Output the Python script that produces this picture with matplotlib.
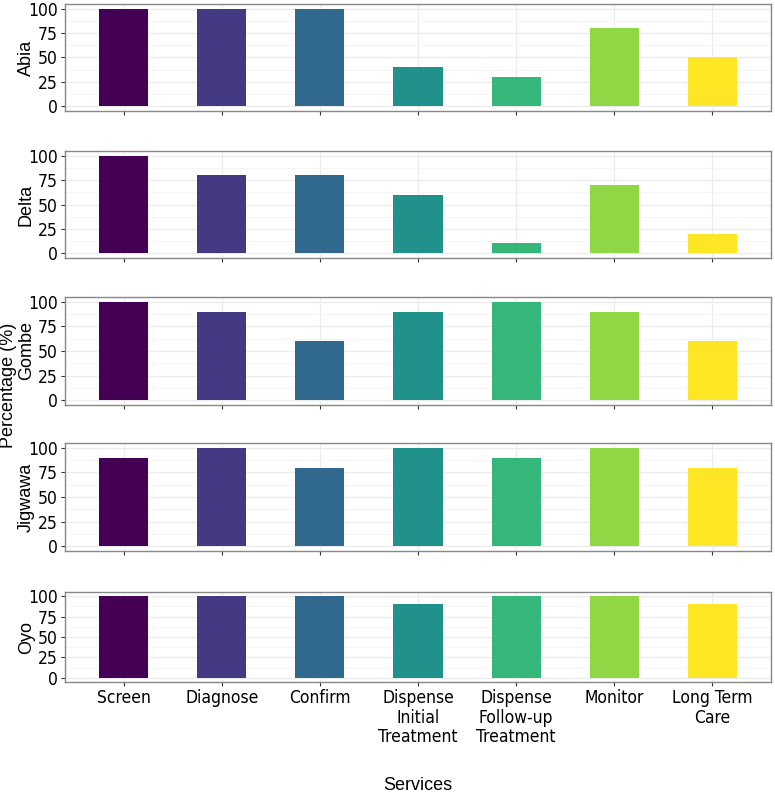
import numpy as np
import matplotlib
matplotlib.use("Agg")
from matplotlib import pyplot as plt
from matplotlib.ticker import MultipleLocator

plt.rcParams['font.family'] = ['DejaVu Sans']
plt.rcParams['font.stretch'] = 'condensed'

services = ['Screen', 'Diagnose', 'Confirm', 'Dispense\nInitial\nTreatment',
            'Dispense\nFollow-up\nTreatment', 'Monitor', 'Long Term\nCare']
states = ['Abia', 'Delta', 'Gombe', 'Jigwawa', 'Oyo']

abia = [100, 100, 100, 40, 30, 80, 50]
delta = [100, 80, 80, 60, 10, 70, 20]
gombe = [100, 90, 60, 90, 100, 90, 60]
jigwawa = [90, 100, 80, 100, 90, 100, 80]
oyo = [100, 100, 100, 90, 100, 100, 90]
values = [abia, delta, gombe, jigwawa, oyo]

colors = ['#440154', '#443983', '#31688E', '#21918C', '#35B779', '#8FD744', '#FDE725']

# panel boxes in pixels (top, bottom)
boxes = [(4, 111), (151, 258), (297, 405), (443, 551), (592, 682)]
W, H = 775, 796

fig = plt.figure(figsize=(W / 100, H / 100), dpi=100)
x = np.arange(len(services))

for i, (st, vals) in enumerate(zip(states, values)):
    top, bot = boxes[i]
    ax = fig.add_axes([65 / W, 1 - bot / H, (771 - 65) / W, (bot - top) / H])
    ax.set_axisbelow(True)
    ax.bar(x, vals, width=0.5, color=colors)
    ax.set_xlim(-0.6, 6.6)
    ax.set_ylim(-5, 105)
    ax.yaxis.set_major_locator(MultipleLocator(25))
    ax.yaxis.set_minor_locator(MultipleLocator(12.5))
    ax.set_xticks(x)
    ax.grid(True, which='major', color='#ebebeb', lw=0.9)
    ax.grid(True, which='minor', axis='y', color='#f4f4f4', lw=0.6)
    ax.tick_params(which='minor', length=0)
    ax.tick_params(which='major', length=3, color='#333333', labelsize=12.5, pad=2)
    for s in ax.spines.values():
        s.set_color('#888888')
        s.set_linewidth(1.0)
    ax.set_ylabel(st, fontsize=13, stretch='normal', family='Liberation Sans')
    ax.yaxis.set_label_coords(-30 / 706, 0.5)
    if i < len(states) - 1:
        ax.set_xticklabels([])
    else:
        ax.set_xticklabels(services, fontsize=12.5, linespacing=1.12, va='top')

fig.text(9 / W, 1 - 385 / H, 'Percentage (%)', rotation=90, fontsize=13,
         ha='center', va='center', family='Liberation Sans')
fig.text(418 / W, 1 - 785 / H, 'Services', fontsize=13, ha='center', va='center',
         family='Liberation Sans')

fig.savefig('out.png', dpi=100)
